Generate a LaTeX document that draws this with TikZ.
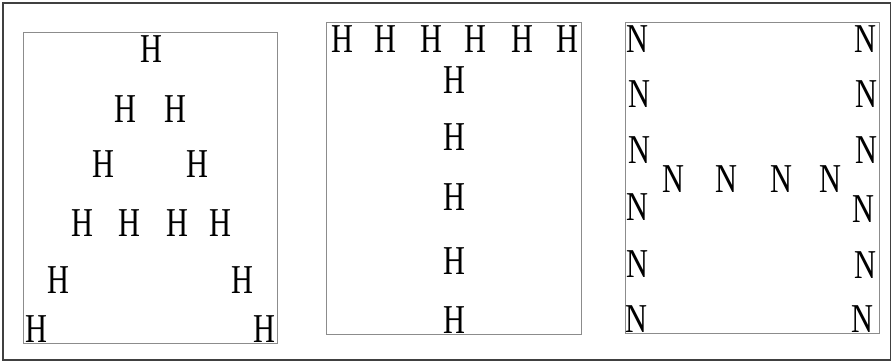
\documentclass[tikz,border=0pt]{standalone}
\usepackage{fontspec}
\newfontfamily\navonfont[FakeStretch=0.74]{Liberation Serif}
\begin{document}
\begin{tikzpicture}[x=1pt,y=-1pt,
  ltr/.style={font=\navonfont\fontsize{41}{41}\selectfont, inner sep=0pt, anchor=base, text=black},
  frameline/.style={draw=black!75, line width=1.2pt},
  boxline/.style={draw=black!45, line width=0.9pt}]
\useasboundingbox (0,0) rectangle (894,362);
\draw[frameline] (3,3) rectangle (890.5,360);
\draw[boxline] (23,32) rectangle (277,343);
\draw[boxline] (326,22) rectangle (581,334);
\draw[boxline] (625,22) rectangle (879,333);
% A made of H
\node[ltr] (a1) at (151,62) {H};
\node[ltr] (a2) at (125.5,122) {H};
\node[ltr] (a3) at (175,122) {H};
\node[ltr] (a4) at (103,177) {H};
\node[ltr] (a5) at (197.5,177) {H};
\node[ltr] (a6) at (82,236) {H};
\node[ltr] (a7) at (129.5,236) {H};
\node[ltr] (a8) at (177,236) {H};
\node[ltr] (a9) at (220,236) {H};
\node[ltr] (a10) at (58,293) {H};
\node[ltr] (a11) at (242.5,293) {H};
\node[ltr] (a12) at (36,342) {H};
\node[ltr] (a13) at (264,342) {H};
% T made of H
\node[ltr] (t1) at (342,52.5) {H};
\node[ltr] (t2) at (385.5,52.5) {H};
\node[ltr] (t3) at (431.7,52.5) {H};
\node[ltr] (t4) at (475,52.5) {H};
\node[ltr] (t5) at (522,52.5) {H};
\node[ltr] (t6) at (567,52.5) {H};
\node[ltr] (t7) at (454.5,93) {H};
\node[ltr] (t8) at (454.5,150) {H};
\node[ltr] (t9) at (454.5,210) {H};
\node[ltr] (t10) at (454.5,274) {H};
\node[ltr] (t11) at (454.5,333) {H};
% H made of N
\node[ltr] (n1) at (637.5,52) {N};
\node[ltr] (n2) at (639.7,107) {N};
\node[ltr] (n3) at (639.7,163) {N};
\node[ltr] (n4) at (637,220) {N};
\node[ltr] (n5) at (637.8,277) {N};
\node[ltr] (n6) at (636.3,332) {N};
\node[ltr] (n7) at (865,52) {N};
\node[ltr] (n8) at (866,107) {N};
\node[ltr] (n9) at (866.3,163) {N};
\node[ltr] (n10) at (863,222) {N};
\node[ltr] (n11) at (865,278) {N};
\node[ltr] (n12) at (862,332) {N};
\node[ltr] (n13) at (673,192) {N};
\node[ltr] (n14) at (726.7,192) {N};
\node[ltr] (n15) at (781.7,192) {N};
\node[ltr] (n16) at (830,192) {N};
\end{tikzpicture}
\end{document}
